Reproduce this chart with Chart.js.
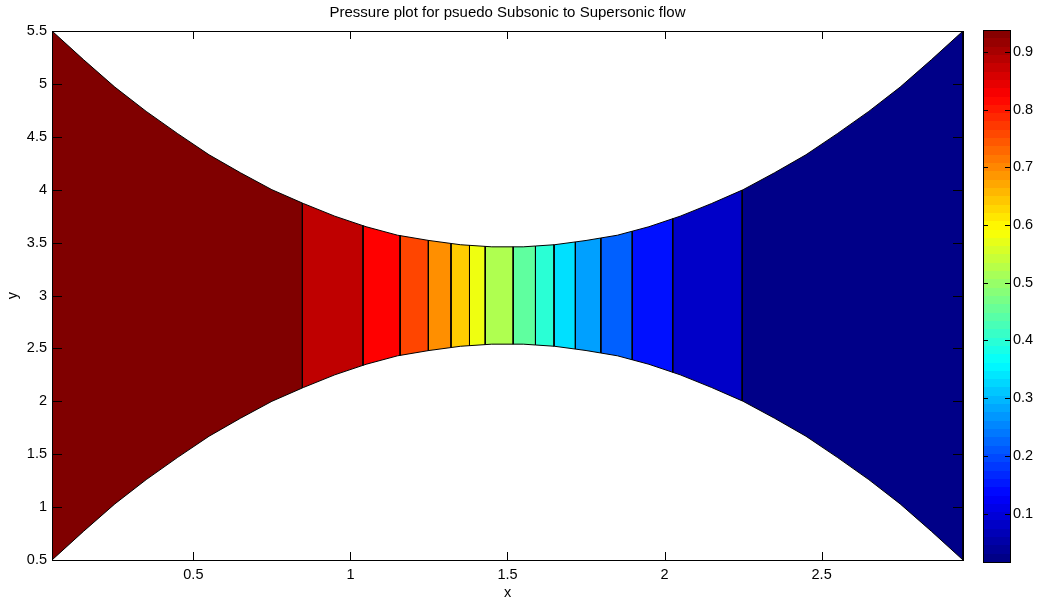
<!DOCTYPE html>
<html lang="en">
<head>
<meta charset="UTF-8">
<title>Pressure plot for psuedo Subsonic to Supersonic flow</title>
<script src="https://cdn.jsdelivr.net/npm/chart.js"></script>
<style>
  body { margin: 0; background: #fff; }
  #wrap { position: relative; width: 1040px; height: 606px; }
  #main { position: absolute; left: 0; top: 0; }
  #cbar { position: absolute; left: 975px; top: 0; }
</style>
</head>
<body>
<div id="wrap">
  <canvas id="main" width="975" height="606"></canvas>
  <canvas id="cbar" width="65" height="606"></canvas>
</div>
<script>
// nozzle wall
const xGrid = [0.05, 0.15, 0.25, 0.35, 0.45, 0.55, 0.65, 0.75, 0.85, 0.95,
               1.05, 1.15, 1.25, 1.35, 1.45, 1.55, 1.65, 1.75, 1.85, 1.95,
               2.05, 2.15, 2.25, 2.35, 2.45, 2.55, 2.65, 2.75, 2.85, 2.95];
const yUpper = [5.50, 5.23, 4.97, 4.74, 4.53, 4.33, 4.16, 4.00, 3.87, 3.75,
                3.65, 3.57, 3.52, 3.48, 3.46, 3.46, 3.48, 3.52, 3.57, 3.65,
                3.75, 3.87, 4.00, 4.16, 4.33, 4.53, 4.74, 4.97, 5.23, 5.50];
const yLower = [0.50, 0.77, 1.03, 1.26, 1.47, 1.67, 1.84, 2.00, 2.13, 2.25,
                2.35, 2.43, 2.48, 2.52, 2.54, 2.54, 2.52, 2.48, 2.43, 2.35,
                2.25, 2.13, 2.00, 1.84, 1.67, 1.47, 1.26, 1.03, 0.77, 0.50];

// pressure contour bands (edges along x) and their colours
const bandEdges = [0.05, 0.847, 1.040, 1.158, 1.248, 1.320, 1.379, 1.429, 1.518,
                   1.589, 1.648, 1.716, 1.797, 1.897, 2.026, 2.247, 2.95];
const bandColors = ['#800000', '#bf0000', '#ff0000', '#ff4500', '#ff8f00', '#ffcc00',
                    '#efff10', '#afff50', '#5fff9f', '#2affd5', '#00e0ff', '#00a0ff',
                    '#0060ff', '#0010ff', '#0000c8', '#000088'];

const xTicks = [0.5, 1, 1.5, 2, 2.5];
const yTicks = [0.5, 1, 1.5, 2, 2.5, 3, 3.5, 4, 4.5, 5, 5.5];
const cbTicks = [0.1, 0.2, 0.3, 0.4, 0.5, 0.6, 0.7, 0.8, 0.9];
const cbMin = 0.016, cbMax = 0.938;

const FONT = { family: '"Liberation Sans", Arial, sans-serif', size: 14.5 };

function wallAt(ys, x) {
  for (let i = 0; i < xGrid.length - 1; i++) {
    if (x <= xGrid[i + 1] + 1e-9) {
      const t = (x - xGrid[i]) / (xGrid[i + 1] - xGrid[i]);
      return ys[i] + t * (ys[i + 1] - ys[i]);
    }
  }
  return ys[ys.length - 1];
}

// closed outline of one band: top wall left->right, bottom wall right->left
function bandPolygon(a, b) {
  const pts = [{ x: a, y: wallAt(yUpper, a) }];
  xGrid.forEach((x, i) => { if (x > a && x < b) pts.push({ x, y: yUpper[i] }); });
  pts.push({ x: b, y: wallAt(yUpper, b) });
  pts.push({ x: b, y: wallAt(yLower, b) });
  for (let i = xGrid.length - 1; i >= 0; i--) {
    if (xGrid[i] > a && xGrid[i] < b) pts.push({ x: xGrid[i], y: yLower[i] });
  }
  pts.push({ x: a, y: wallAt(yLower, a) });
  pts.push({ x: a, y: wallAt(yUpper, a) });
  return pts;
}

function jet(t) {
  const c = v => Math.round(255 * Math.min(1, Math.max(0, v)));
  return `rgb(${c(1.5 - Math.abs(4 * t - 3))},${c(1.5 - Math.abs(4 * t - 2))},${c(1.5 - Math.abs(4 * t - 1))})`;
}

// box round the plot + inward tick marks like matlab
const matlabFrame = {
  id: 'matlabFrame',
  afterDatasetsDraw(chart, args, opts) {
    const { ctx, chartArea: a, scales } = chart;
    ctx.save();
    ctx.strokeStyle = '#000';
    ctx.lineWidth = 1;
    ctx.beginPath();
    if (opts.xLen) {
      scales.x.ticks.forEach(t => {
        const p = Math.round(scales.x.getPixelForValue(t.value)) + 0.5;
        ctx.moveTo(p, a.bottom); ctx.lineTo(p, a.bottom - opts.xLen);
        ctx.moveTo(p, a.top); ctx.lineTo(p, a.top + opts.xLen);
      });
    }
    if (opts.yLen) {
      scales.y.ticks.forEach(t => {
        const p = Math.round(scales.y.getPixelForValue(t.value)) + 0.5;
        ctx.moveTo(a.left, p); ctx.lineTo(a.left + opts.yLen, p);
        ctx.moveTo(a.right, p); ctx.lineTo(a.right - opts.yLen, p);
      });
    }
    ctx.stroke();
    ctx.strokeRect(Math.round(a.left) + 0.5, Math.round(a.top) + 0.5,
                   Math.round(a.right - a.left), Math.round(a.bottom - a.top));
    ctx.restore();
  }
};

new Chart(document.getElementById('main'), {
  type: 'line',
  data: {
    datasets: bandColors.map((c, i) => ({
      data: bandPolygon(bandEdges[i], bandEdges[i + 1]),
      fill: 'shape',
      backgroundColor: c,
      borderColor: '#000',
      borderWidth: 1,
      pointRadius: 0,
      tension: 0
    }))
  },
  options: {
    responsive: false,
    animation: false,
    layout: { padding: { left: 0, right: 12, top: 0, bottom: 0 } },
    plugins: {
      legend: { display: false },
      tooltip: { enabled: false },
      title: {
        display: true,
        fullSize: false,
        text: 'Pressure plot for psuedo Subsonic to Supersonic flow',
        color: '#000',
        font: { family: FONT.family, size: 15, weight: 'normal', lineHeight: 1.2 },
        padding: { top: 4, bottom: 9 }
      },
      matlabFrame: { xLen: 8, yLen: 10 }
    },
    scales: {
      x: {
        type: 'linear',
        min: bandEdges[0],
        max: bandEdges[bandEdges.length - 1],
        afterBuildTicks: s => { s.ticks = xTicks.map(v => ({ value: v })); },
        afterFit: s => { s.height = 46; },
        grid: { display: false, drawTicks: false },
        border: { display: false },
        ticks: { color: '#000', font: FONT, padding: 6, maxRotation: 0, autoSkip: false, callback: v => String(v) },
        title: { display: true, text: 'x', color: '#000', font: FONT, padding: { top: 0, bottom: 4 } }
      },
      y: {
        type: 'linear',
        min: 0.5,
        max: 5.5,
        afterBuildTicks: s => { s.ticks = yTicks.map(v => ({ value: v })); },
        afterFit: s => { s.width = 52; },
        grid: { display: false, drawTicks: false },
        border: { display: false },
        ticks: { color: '#000', font: FONT, padding: 5, autoSkip: false, callback: v => String(v) },
        title: { display: true, text: 'y', color: '#000', font: FONT, padding: { top: 4, bottom: 0 } }
      }
    }
  },
  plugins: [matlabFrame]
});

new Chart(document.getElementById('cbar'), {
  type: 'bar',
  data: {
    labels: [''],
    datasets: [{
      data: [[cbMin, cbMax]],
      backgroundColor: c => {
        const chart = c.chart;
        if (!chart.chartArea) return '#000';
        const y = chart.scales.y;
        const g = chart.ctx.createLinearGradient(0, y.getPixelForValue(cbMin), 0, y.getPixelForValue(cbMax));
        for (let k = 0; k < 64; k++) {
          const col = jet((k + 0.5) / 64);
          g.addColorStop(k / 64, col);
          g.addColorStop((k + 1) / 64, col);
        }
        return g;
      },
      borderWidth: 0,
      barPercentage: 1,
      categoryPercentage: 1
    }]
  },
  options: {
    responsive: false,
    animation: false,
    layout: { padding: { left: 8, top: 30, bottom: 44, right: 0 } },
    plugins: {
      legend: { display: false },
      tooltip: { enabled: false },
      matlabFrame: { xLen: 0, yLen: 5 }
    },
    scales: {
      x: { display: false },
      y: {
        position: 'right',
        min: cbMin,
        max: cbMax,
        afterBuildTicks: s => { s.ticks = cbTicks.map(v => ({ value: v })); },
        afterFit: s => { s.width = 30; },
        grid: { display: false, drawTicks: false },
        border: { display: false },
        ticks: { color: '#000', font: FONT, padding: 3, autoSkip: false, callback: v => String(v) }
      }
    }
  },
  plugins: [matlabFrame]
});
</script>
</body>
</html>
